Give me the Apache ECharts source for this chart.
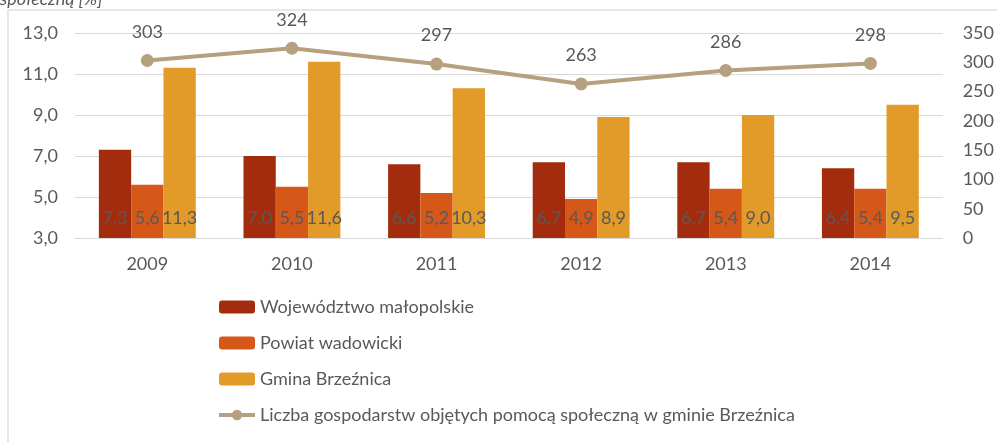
<!DOCTYPE html>
<html>
<head>
<meta charset="utf-8">
<script src="https://cdn.jsdelivr.net/npm/echarts@6/dist/echarts.min.js"></script>
<style>
  html, body { margin: 0; padding: 0; background: #fff; }
  #main { width: 997px; height: 442px; }
</style>
</head>
<body>
<div id="main"></div>
<script>
// dane
var lata = ['2009', '2010', '2011', '2012', '2013', '2014'];
var wojewodztwo = [7.3, 7.0, 6.6, 6.7, 6.7, 6.4];
var powiat = [5.6, 5.5, 5.2, 4.9, 5.4, 5.4];
var gmina = [11.3, 11.6, 10.3, 8.9, 9.0, 9.5];
var gospodarstwa = [303, 324, 297, 263, 286, 298];

var FONT = 'Lato';
var SZARY = '#595959';
var ROZMIAR = 18;

function przecinek(v) {
  return v.toFixed(1).replace('.', ',');
}

function slupek(nazwa, dane, kolor) {
  return {
    name: nazwa,
    type: 'bar',
    yAxisIndex: 0,
    data: dane,
    barGap: '0%',
    barCategoryGap: '33%',
    itemStyle: { color: kolor },
    label: {
      show: true,
      position: 'insideBottom',
      distance: 11,
      color: SZARY,
      fontFamily: FONT,
      fontSize: ROZMIAR,
      formatter: function (p) { return przecinek(p.value); }
    }
  };
}

var myChart = echarts.init(document.getElementById('main'));
var option = {
  animation: false,
  textStyle: { fontFamily: FONT },
  graphic: [
    {
      type: 'rect',
      z: -1,
      shape: { x: 8, y: 10, width: 1200, height: 600 },
      style: { fill: 'none', stroke: '#e0e0e0', lineWidth: 1.5 }
    },
    {
      type: 'text',
      left: 0,
      top: -10,
      style: {
        text: 'społeczną [%]',
        fill: SZARY,
        font: 'italic 18px ' + FONT
      }
    }
  ],
  grid: { left: 75, right: 50, top: 33, bottom: 204 },
  legend: {
    orient: 'vertical',
    left: 217,
    top: 298,
    padding: 0,
    itemWidth: 36,
    itemHeight: 13,
    itemGap: 18,
    textStyle: { color: SZARY, fontSize: ROZMIAR, fontFamily: FONT },
    data: [
      'Województwo małopolskie',
      'Powiat wadowicki',
      'Gmina Brzeźnica',
      {
        name: 'Liczba gospodarstw objętych pomocą społeczną w gminie Brzeźnica',
        lineStyle: { width: 4 }
      }
    ]
  },
  xAxis: {
    type: 'category',
    data: lata,
    axisLine: { lineStyle: { color: '#d9d9d9' } },
    axisTick: { show: false },
    axisLabel: { color: SZARY, fontSize: ROZMIAR, margin: 17 }
  },
  yAxis: [
    {
      type: 'value',
      min: 3,
      max: 13,
      interval: 2,
      axisLine: { show: false },
      axisTick: { show: false },
      axisLabel: { color: SZARY, fontSize: ROZMIAR, margin: 17, formatter: function (v) { return przecinek(v); } },
      splitLine: { lineStyle: { color: '#d9d9d9' } }
    },
    {
      type: 'value',
      min: 0,
      max: 350,
      interval: 50,
      position: 'right',
      axisLine: { show: false },
      axisTick: { show: false },
      axisLabel: { color: SZARY, fontSize: ROZMIAR, margin: 20 },
      splitLine: { show: false }
    }
  ],
  series: [
    slupek('Województwo małopolskie', wojewodztwo, '#A32C0E'),
    slupek('Powiat wadowicki', powiat, '#D65818'),
    slupek('Gmina Brzeźnica', gmina, '#E29A28'),
    {
      name: 'Liczba gospodarstw objętych pomocą społeczną w gminie Brzeźnica',
      type: 'line',
      yAxisIndex: 1,
      data: gospodarstwa,
      symbol: 'circle',
      symbolSize: 13,
      itemStyle: { color: '#B5A07F' },
      lineStyle: { color: '#B5A07F', width: 4 },
      label: {
        show: true,
        position: 'top',
        distance: 13,
        color: SZARY,
        fontSize: ROZMIAR,
        fontFamily: FONT
      },
      z: 5
    }
  ]
};
myChart.setOption(option);
</script>
</body>
</html>
